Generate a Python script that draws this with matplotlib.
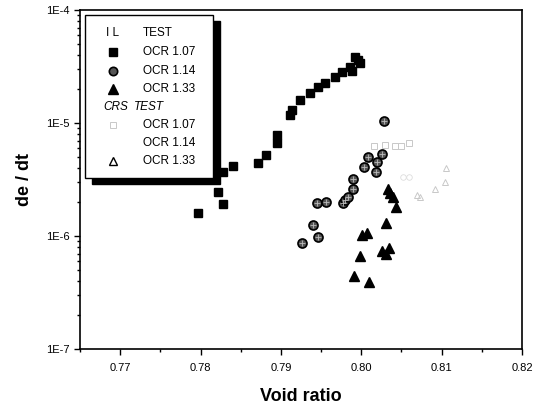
import matplotlib

matplotlib.use("Agg")
import matplotlib.pyplot as plt
from matplotlib.patches import Rectangle
from matplotlib.lines import Line2D

plt.rcParams["font.family"] = ["Liberation Sans", "DejaVu Sans"]

# IL test, OCR 1.07 (filled squares)
il107_e = [0.7797, 0.7828, 0.7822, 0.7828, 0.7840, 0.7871, 0.7881, 0.7895, 0.7895,
           0.7911, 0.7914, 0.7924, 0.7936, 0.7946, 0.7955, 0.7967, 0.7976, 0.7986,
           0.7988, 0.7992, 0.7996, 0.7998]
il107_r = [1.6e-6, 1.92e-6, 2.45e-6, 3.7e-6, 4.2e-6, 4.4e-6, 5.2e-6, 6.6e-6, 7.9e-6,
           1.18e-5, 1.3e-5, 1.6e-5, 1.85e-5, 2.1e-5, 2.25e-5, 2.55e-5, 2.8e-5, 3.1e-5,
           2.9e-5, 3.85e-5, 3.6e-5, 3.4e-5]

# IL test, OCR 1.14 (hatched circles)
il114_e = [0.7926, 0.7946, 0.7940, 0.7945, 0.7956, 0.7977, 0.7980, 0.7983, 0.7990,
           0.7990, 0.8004, 0.8008, 0.8019, 0.8018, 0.8026, 0.8028]
il114_r = [8.7e-7, 9.8e-7, 1.25e-6, 1.95e-6, 2.0e-6, 1.95e-6, 2.1e-6, 2.2e-6, 2.6e-6,
           3.2e-6, 4.1e-6, 5.0e-6, 4.5e-6, 3.7e-6, 5.3e-6, 1.05e-5]

# IL test, OCR 1.33 (filled triangles)
il133_e = [0.8033, 0.8036, 0.8039, 0.8043, 0.8031, 0.8001, 0.8007, 0.8026, 0.8034,
           0.8031, 0.7999, 0.7991, 0.8009]
il133_r = [2.6e-6, 2.4e-6, 2.2e-6, 1.8e-6, 1.3e-6, 1.02e-6, 1.07e-6, 7.4e-7, 7.9e-7,
           6.9e-7, 6.6e-7, 4.4e-7, 3.9e-7]

# CRS test (faint open symbols in the scan)
crs107_e = [0.8016, 0.8029, 0.8042, 0.8050, 0.8060]
crs107_r = [6.3e-6, 6.4e-6, 6.2e-6, 6.3e-6, 6.6e-6]
crs114_e = [0.8052, 0.8060]
crs114_r = [3.3e-6, 3.3e-6]
crs133_e = [0.8069, 0.8073, 0.8092, 0.8104, 0.8106]
crs133_r = [2.3e-6, 2.2e-6, 2.6e-6, 3.0e-6, 4.0e-6]

x_ticks = [0.77, 0.78, 0.79, 0.80, 0.81, 0.82]
y_ticks = [1e-7, 1e-6, 1e-5, 1e-4]
y_labels = ["1E-7", "1E-6", "1E-5", "1E-4"]

W, H = 542, 409
fig = plt.figure(figsize=(W / 100, H / 100), dpi=100)
ax = fig.add_axes([80 / W, 1 - 349 / H, 442 / W, 339 / H])
ax.set_yscale("log")
ax.set_xlim(0.765, 0.82)
ax.set_ylim(1e-7, 1e-4)

faint = "#c8c8c8"
ax.plot(crs107_e, crs107_r, "s", ms=5, mfc="none", mec=faint, mew=0.7)
ax.plot(crs114_e, crs114_r, "o", ms=4, mfc="none", mec="#dddddd", mew=0.6)
ax.plot(crs133_e, crs133_r, "^", ms=5, mfc="none", mec=faint, mew=0.7)

ax.plot(il107_e, il107_r, "s", ms=6, color="black", mec="black")
ax.plot(il114_e, il114_r, "o", ms=6.5, mfc="#555555", mec="black", mew=1.2)
ax.plot(il114_e, il114_r, "+", ms=4, color="#bbbbbb", mew=0.6)
ax.plot(il133_e, il133_r, "^", ms=7, color="black", mec="black")

ax.set_xticks(x_ticks)
ax.set_xticklabels([f"{v:.2f}" for v in x_ticks])
ax.set_xticks([0.765, 0.775, 0.785, 0.795, 0.805, 0.815], minor=True)
ax.set_yticks(y_ticks)
ax.set_yticklabels(y_labels)
ax.tick_params(which="both", direction="out", labelsize=8, width=1, top=False, right=False)
ax.tick_params(which="major", length=4)
ax.tick_params(which="minor", length=2.5)
ax.tick_params(axis="x", pad=6)
for s in ax.spines.values():
    s.set_linewidth(1.2)

ax.set_xlabel("Void ratio", fontsize=13, fontweight="bold", labelpad=11)
ax.set_ylabel("de / dt", fontsize=13, fontweight="bold", labelpad=9)


def fx(px):
    return px / W


def fy(py):
    return 1 - py / H


# legend box with a solid drop shadow
bx0, by0, bx1, by1 = 85, 15, 213, 178
fig.patches.append(Rectangle((fx(bx0 + 7), fy(by1 + 6)), fx(bx1 - bx0), (by1 - by0) / H,
                             transform=fig.transFigure, facecolor="black", edgecolor="black",
                             zorder=5))
fig.patches.append(Rectangle((fx(bx0), fy(by1)), fx(bx1 - bx0), (by1 - by0) / H,
                             transform=fig.transFigure, facecolor="white", edgecolor="black",
                             linewidth=1, zorder=6))

rows = [33, 52, 71, 89, 107, 125, 143, 161]
txt = dict(transform=fig.transFigure, fontsize=8.5, va="center", zorder=7)
fig.text(fx(106), fy(rows[0]), "I L", **txt)
fig.text(fx(143), fy(rows[0]), "TEST", **txt)
fig.text(fx(103), fy(rows[4]), "CRS", style="italic", **txt)
fig.text(fx(134), fy(rows[4]), "TEST", style="italic", **txt)
for r in [1, 2, 3, 5, 6, 7]:
    fig.text(fx(143), fy(rows[r]), ["", "OCR 1.07", "OCR 1.14", "OCR 1.33", "",
                                      "OCR 1.07", "OCR 1.14", "OCR 1.33"][r], **txt)

marks = [
    (1, dict(marker="s", ms=6, color="black")),
    (2, dict(marker="o", ms=6, mfc="#555555", mec="black", mew=1.2)),
    (3, dict(marker="^", ms=7, color="black")),
    (5, dict(marker="s", ms=5, mfc="none", mec=faint, mew=0.7)),
    (7, dict(marker="^", ms=6, mfc="none", mec="black", mew=1.0)),
]
for r, kw in marks:
    fig.lines.append(Line2D([fx(113)], [fy(rows[r])], transform=fig.transFigure,
                            linestyle="none", zorder=7, **kw))

fig.savefig("out.png", dpi=100)
